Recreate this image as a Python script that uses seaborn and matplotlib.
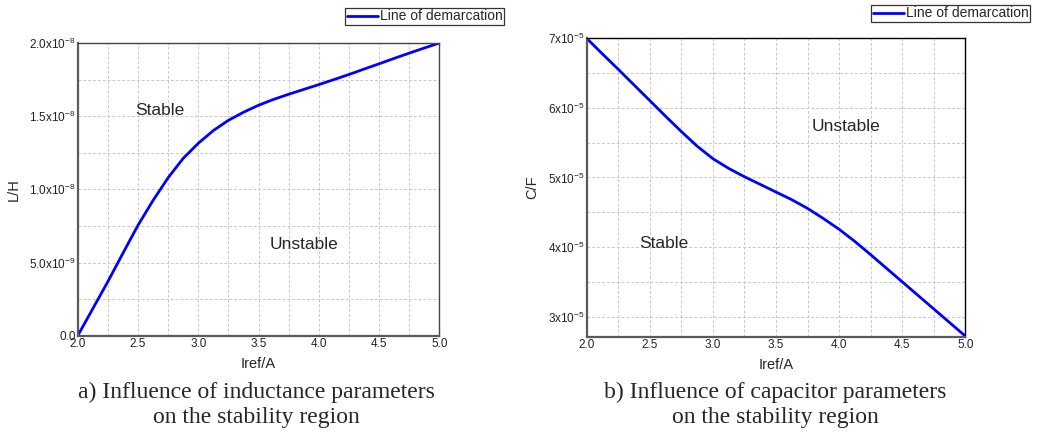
import matplotlib
matplotlib.use("Agg")
import matplotlib.pyplot as plt
import seaborn as sns
import pandas as pd
from matplotlib.ticker import MultipleLocator, FixedLocator

# ---------------- data ----------------
iref = [2.0, 2.125, 2.25, 2.375, 2.5, 2.625, 2.75, 2.875, 3.0, 3.125, 3.25, 3.375,
        3.5, 3.625, 3.75, 3.875, 4.0, 4.125, 4.25, 4.375, 4.5, 4.625, 4.75, 4.875, 5.0]
L_vals = [0.0, 0.185, 0.37, 0.564, 0.755, 0.925, 1.08, 1.212, 1.315, 1.402, 1.472, 1.527,
          1.575, 1.615, 1.65, 1.683, 1.716, 1.75, 1.785, 1.822, 1.858, 1.895, 1.931, 1.966, 2.0]  # x1e-8 H
C_vals = [7.0, 6.775, 6.555, 6.33, 6.105, 5.88, 5.66, 5.45, 5.27, 5.13, 5.01, 4.90,
          4.79, 4.68, 4.555, 4.41, 4.255, 4.08, 3.89, 3.695, 3.50, 3.305, 3.11, 2.915, 2.72]  # x1e-5 F

L_ticks = [0.0, 5.0e-9, 1.0e-8, 1.5e-8, 2.0e-8]
L_labels = ["0.0", r"5.0x10$^{-9}$", r"1.0x10$^{-8}$", r"1.5x10$^{-8}$", r"2.0x10$^{-8}$"]
C_ticks = [3e-5, 4e-5, 5e-5, 6e-5, 7e-5]
C_labels = [r"3x10$^{-5}$", r"4x10$^{-5}$", r"5x10$^{-5}$", r"6x10$^{-5}$", r"7x10$^{-5}$"]
x_ticks = [2.0, 2.5, 3.0, 3.5, 4.0, 4.5, 5.0]

series_label = "Line of demarcation"
caption_a = "a) Influence of inductance parameters\non the stability region"
caption_b = "b) Influence of capacitor parameters\non the stability region"

dfL = pd.DataFrame({"Iref": iref, "L": [v * 1e-8 for v in L_vals]})
dfC = pd.DataFrame({"Iref": iref, "C": [v * 1e-5 for v in C_vals]})

# ---------------- style ----------------
sns.set_style("white")
plt.rcParams["font.family"] = ["Liberation Sans", "DejaVu Sans"]
plt.rcParams["mathtext.fontset"] = "custom"
plt.rcParams["mathtext.rm"] = "Liberation Sans"
plt.rcParams["mathtext.it"] = "Liberation Sans:italic"
plt.rcParams["mathtext.bf"] = "Liberation Sans:bold"

fig = plt.figure(figsize=(10.38, 4.32), dpi=100)
axL = fig.add_axes([0.0749, 0.2229, 0.3484, 0.6775])
axC = fig.add_axes([0.5652, 0.2206, 0.3647, 0.6907])

blue = "#0000ff"
sns.lineplot(data=dfL, x="Iref", y="L", ax=axL, color=blue, lw=2.0, label=series_label)
sns.lineplot(data=dfC, x="Iref", y="C", ax=axC, color=blue, lw=2.0, label=series_label)


def style_axes(ax, yticks, ylabels, ymin, ymax, yminor, ylabel, topright):
    ax.set_xlim(2.0, 5.0)
    ax.set_ylim(ymin, ymax)
    ax.xaxis.set_major_locator(FixedLocator(x_ticks))
    ax.set_xticklabels([f"{t:.1f}" for t in x_ticks])
    ax.xaxis.set_minor_locator(MultipleLocator(0.25))
    ax.yaxis.set_major_locator(FixedLocator(yticks))
    ax.set_yticklabels(ylabels)
    ax.yaxis.set_minor_locator(MultipleLocator(yminor))
    ax.grid(True, which="both", color="#c8c8c8", linestyle=(0, (3, 2)), lw=0.7)
    ax.tick_params(axis="both", which="major", labelsize=8.5, length=2, width=0.8,
                   direction="in", pad=1.5, colors="#222222")
    ax.tick_params(axis="both", which="minor", length=0)
    for s in ["left", "bottom"]:
        ax.spines[s].set_color("#5a5a5a")
        ax.spines[s].set_linewidth(1.6)
    for s in ["top", "right"]:
        ax.spines[s].set_color(topright)
        ax.spines[s].set_linewidth(1.0)
    ax.set_xlabel("Iref/A", fontsize=10.5, labelpad=5)
    ax.set_ylabel(ylabel, fontsize=10.5, labelpad=6)


style_axes(axL, L_ticks, L_labels, 0.0, 2.0e-8, 2.5e-9, "L/H", "#444444")
style_axes(axC, C_ticks, C_labels, 2.71e-5, 7.0e-5, 0.5e-5, "C/F", "black")

axL.text(2.677, 1.539e-8, "Stable", fontsize=12.5, ha="center", va="center")
axL.text(3.874, 0.626e-8, "Unstable", fontsize=12.5, ha="center", va="center")
axC.text(4.055, 5.736e-5, "Unstable", fontsize=12.5, ha="center", va="center")
axC.text(2.61, 4.049e-5, "Stable", fontsize=12.5, ha="center", va="center")

for ax, anchor in [(axL, (504 / 1038, 1 - 8 / 432)), (axC, (1030 / 1038, 1 - 5 / 432))]:
    leg = ax.legend(loc="upper right", bbox_to_anchor=anchor, bbox_transform=fig.transFigure,
                    fontsize=10, frameon=True, fancybox=False, handlelength=2.3,
                    handletextpad=0.1, borderpad=0.1, borderaxespad=0.0)
    leg.get_frame().set_edgecolor("black")
    leg.get_frame().set_linewidth(0.9)

fig.text(256.8 / 1038, 1 - 405 / 432, caption_a, ha="center", va="center",
         fontsize=17, family=["Liberation Serif", "DejaVu Serif"], linespacing=1.25)
fig.text(775 / 1038, 1 - 405 / 432, caption_b, ha="center", va="center",
         fontsize=17, family=["Liberation Serif", "DejaVu Serif"], linespacing=1.25)

fig.savefig("out.png", dpi=100, facecolor="white")
